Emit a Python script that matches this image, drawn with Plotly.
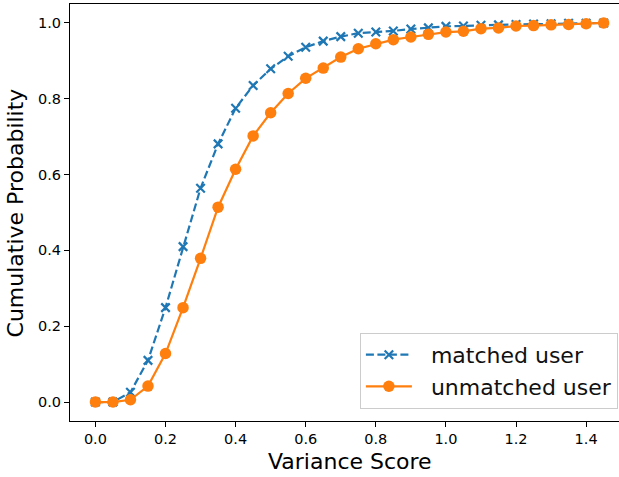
import plotly.graph_objects as go

x_values = [round(0.05 * i, 2) for i in range(30)]
matched_user = [0.0, 0.0, 0.026, 0.110, 0.249, 0.410, 0.564, 0.681, 0.775, 0.835,
                0.879, 0.912, 0.936, 0.952, 0.964, 0.973, 0.976, 0.979, 0.984, 0.987,
                0.991, 0.992, 0.994, 0.995, 0.996, 0.997, 0.998, 0.999, 0.999, 1.0]
unmatched_user = [0.0, 0.0, 0.006, 0.042, 0.128, 0.249, 0.379, 0.514, 0.614, 0.702,
                  0.763, 0.814, 0.854, 0.881, 0.910, 0.932, 0.945, 0.956, 0.963, 0.970,
                  0.976, 0.978, 0.985, 0.987, 0.992, 0.993, 0.995, 0.996, 0.998, 1.0]
tick_vals = [0.0, 0.2, 0.4, 0.6, 0.8, 1.0, 1.2, 1.4]
ytick_vals = [0.0, 0.2, 0.4, 0.6, 0.8, 1.0]
series_names = ["matched user", "unmatched user"]

FONT = "DejaVu Sans"
BLUE = "#1f77b4"
ORANGE = "#ff7f0e"
PAD = "\u00a0\u00a0"

fig = go.Figure()
fig.add_trace(go.Scatter(
    x=x_values, y=matched_user, mode="lines+markers", name=PAD + series_names[0],
    legendgroup="a",
    line=dict(color=BLUE, width=2.2, dash="8px,3.5px"),
    marker=dict(symbol="x-thin", size=8.5, line=dict(color=BLUE, width=2.2), color=BLUE),
))
fig.add_trace(go.Scatter(
    x=x_values, y=unmatched_user, mode="lines+markers", name=PAD + series_names[1],
    legendgroup="b",
    line=dict(color=ORANGE, width=2.2),
    marker=dict(symbol="circle", size=11.5, color=ORANGE, line=dict(width=0)),
))

fig.update_layout(
    width=619, height=477,
    margin=dict(l=70, r=0, t=4, b=56, pad=0),
    paper_bgcolor="white", plot_bgcolor="white",
    font=dict(family=FONT, color="black"),
    showlegend=True,
    legend=dict(
        x=0.998, y=0.029, xanchor="right", yanchor="bottom",
        bgcolor="rgba(255,255,255,0.8)", bordercolor="#cccccc", borderwidth=1,
        font=dict(family=FONT, size=22, color="#111111"),
        tracegroupgap=0, traceorder="grouped", itemwidth=46,
    ),
    xaxis=dict(
        range=[-0.0725, 1.4938], tickvals=tick_vals, ticktext=[f"{v:.1f}" for v in tick_vals],
        showgrid=False, zeroline=False, showline=True, mirror=True,
        linecolor="black", linewidth=1.1,
        ticks="outside", ticklen=5, tickwidth=1.1, tickcolor="black",
        tickfont=dict(family=FONT, size=14.5, color="black"),
    ),
    yaxis=dict(
        range=[-0.05, 1.05], tickvals=ytick_vals, ticktext=[f"{v:.1f}" for v in ytick_vals],
        showgrid=False, zeroline=False, showline=True, mirror=False,
        linecolor="black", linewidth=1.1,
        ticks="outside", ticklen=5, tickwidth=1.1, tickcolor="black",
        tickfont=dict(family=FONT, size=14.5, color="black"),
    ),
    annotations=[
        dict(text="Variance Score", xref="x", yref="paper", x=0.725, y=-0.0976,
             xanchor="center", yanchor="middle", showarrow=False,
             font=dict(family=FONT, size=22, color="black")),
        dict(text="Cumulative Probability", xref="paper", yref="paper", x=-0.0984, y=0.5,
             xanchor="center", yanchor="middle", textangle=-90, showarrow=False,
             font=dict(family=FONT, size=22, color="black")),
    ],
)

fig.write_html("out.html")
